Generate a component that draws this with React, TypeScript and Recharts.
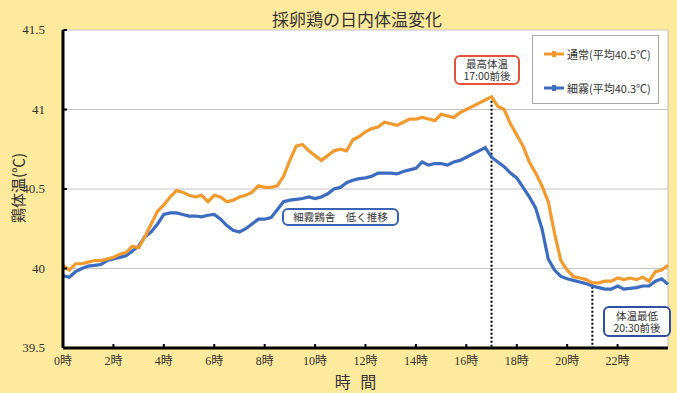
import React from 'react';
import { LineChart, Line, XAxis, YAxis, CartesianGrid, ReferenceLine } from 'recharts';

const hours = [
  0, 0.25, 0.5, 0.75, 1, 1.25, 1.5, 1.75, 2, 2.25, 2.5, 2.75,
  3, 3.25, 3.5, 3.75, 4, 4.25, 4.5, 4.75, 5, 5.25, 5.5, 5.75,
  6, 6.25, 6.5, 6.75, 7, 7.25, 7.5, 7.75, 8, 8.25, 8.5, 8.75,
  9, 9.25, 9.5, 9.75, 10, 10.25, 10.5, 10.75, 11, 11.25, 11.5, 11.75,
  12, 12.25, 12.5, 12.75, 13, 13.25, 13.5, 13.75, 14, 14.25, 14.5, 14.75,
  15, 15.25, 15.5, 15.75, 16, 16.25, 16.5, 16.75, 17, 17.25, 17.5, 17.75,
  18, 18.25, 18.5, 18.75, 19, 19.25, 19.5, 19.75, 20, 20.25, 20.5, 20.75,
  21, 21.25, 21.5, 21.75, 22, 22.25, 22.5, 22.75, 23, 23.25, 23.5, 23.75, 24,
];

const normal = [
  40.02, 39.99, 40.03, 40.03, 40.04, 40.05, 40.05, 40.06, 40.07, 40.09, 40.1, 40.14,
  40.13, 40.2, 40.28, 40.36, 40.4, 40.45, 40.49, 40.48, 40.46, 40.45, 40.46, 40.42,
  40.46, 40.45, 40.42, 40.43, 40.45, 40.46, 40.48, 40.52, 40.51, 40.51, 40.52, 40.58,
  40.68, 40.77, 40.78, 40.74, 40.71, 40.68, 40.71, 40.74, 40.75, 40.74, 40.81, 40.83,
  40.86, 40.88, 40.89, 40.92, 40.91, 40.9, 40.92, 40.94, 40.94, 40.95, 40.94, 40.93,
  40.97, 40.96, 40.95, 40.98, 41.0, 41.02, 41.04, 41.06, 41.08, 41.02, 41.0, 40.91,
  40.84, 40.77, 40.67, 40.6, 40.52, 40.42, 40.22, 40.05, 39.99, 39.95, 39.94, 39.93,
  39.91, 39.91, 39.92, 39.92, 39.94, 39.93, 39.94, 39.93, 39.945, 39.92, 39.98, 39.99, 40.02,
];

const mist = [
  39.955, 39.945, 39.98, 40.0, 40.015, 40.02, 40.025, 40.05, 40.06, 40.07, 40.08, 40.11,
  40.14, 40.2, 40.23, 40.28, 40.34, 40.35, 40.35, 40.34, 40.33, 40.33, 40.325, 40.335,
  40.34, 40.31, 40.27, 40.24, 40.23, 40.25, 40.28, 40.31, 40.31, 40.32, 40.37, 40.42,
  40.43, 40.435, 40.44, 40.45, 40.44, 40.45, 40.47, 40.5, 40.51, 40.54, 40.555, 40.565,
  40.57, 40.58, 40.6, 40.6, 40.6, 40.595, 40.61, 40.62, 40.63, 40.67, 40.65, 40.66,
  40.66, 40.65, 40.67, 40.68, 40.7, 40.72, 40.74, 40.76, 40.7, 40.67, 40.64, 40.6,
  40.57, 40.51, 40.45, 40.38, 40.25, 40.06, 39.99, 39.95, 39.935, 39.925, 39.915, 39.905,
  39.89, 39.88, 39.87, 39.87, 39.89, 39.87, 39.875, 39.88, 39.89, 39.89, 39.92, 39.935, 39.9,
];

const xTicks = [0, 2, 4, 6, 8, 10, 12, 14, 16, 18, 20, 22];
const yTicks = [39.5, 40, 40.5, 41, 41.5];

const seriesNames = ['通常(平均40.5℃)', '細霧(平均40.3℃)'];
const title = '採卵鶏の日内体温変化';
const yTitle = '鶏体温(℃)';
const xTitle = '時 間';
const peakNote = '最高体温\n17:00前後';
const mistNote = '細霧鶏舎　低く推移';
const lowNote = '体温最低\n20:30前後';
const peakHour = 17;
const peakTemp = 41.08;
const lowHour = 21;
const lowTemp = 39.91;

const data = hours.map((h, i) => ({ h, normal: normal[i], mist: mist[i] }));

const ORANGE = '#F29A2E';
const BLUE = '#3B6CC0';
const numFont = "Liberation Serif, Noto Sans CJK JP, serif";
const jpFont = "'Noto Sans CJK JP', sans-serif";

const XTick = (props: any) => {
  const { x, y, payload } = props;
  return (
    <g>
      <line x1={x} x2={x} y1={y} y2={y - 4} stroke="#000" strokeWidth={2} />
      <text x={x} y={y + 17} textAnchor="middle" fontSize={12} fill="#333" fontFamily={numFont}>
        {payload.value}時
      </text>
    </g>
  );
};

const YTick = (props: any) => {
  const { x, y, payload } = props;
  return (
    <g>
      <line x1={x} x2={x + 4} y1={y} y2={y} stroke="#000" strokeWidth={2} />
      <text x={x - 18} y={y + 4} textAnchor="end" fontSize={13} fill="#333" fontFamily={numFont}>
        {String(payload.value)}
      </text>
    </g>
  );
};

const LegendIcon = ({ color }: { color: string }) => (
  <svg width={20} height={8} style={{ marginRight: 3 }}>
    <line x1={0} x2={20} y1={4} y2={4} stroke={color} strokeWidth={3} />
    <rect x={8} y={1} width={4} height={6} fill={color} />
  </svg>
);

const boxStyle = (color: string, left: number, top: number, w: number, h: number): React.CSSProperties => ({
  position: 'absolute',
  left,
  top,
  width: w,
  height: h,
  boxSizing: 'border-box',
  border: `2px solid ${color}`,
  borderRadius: 6,
  background: '#fff',
  fontFamily: jpFont,
  fontSize: 10.5,
  lineHeight: '12px',
  color: '#333',
  display: 'flex',
  alignItems: 'center',
  justifyContent: 'center',
  textAlign: 'center',
  whiteSpace: 'pre',
});

export default function App() {
  return (
    <div
      style={{
        position: 'fixed',
        left: 0,
        top: 0,
        width: 677,
        height: 393,
        background: '#FDEA9C',
        overflow: 'hidden',
      }}
    >
      <LineChart width={677} height={393} data={data} margin={{ top: 30, right: 9, bottom: 0, left: 0 }}>
        <CartesianGrid vertical={false} stroke="#C4C4C4" fill="#ffffff" horizontalValues={yTicks} />
        <XAxis
          dataKey="h"
          type="number"
          domain={[0, 24]}
          ticks={xTicks}
          interval={0}
          height={45}
          tickSize={0}
          tickMargin={0}
          tick={<XTick />}
          axisLine={{ stroke: '#000', strokeWidth: 3 }}
          tickLine={false}
        />
        <YAxis
          type="number"
          domain={[39.5, 41.5]}
          ticks={yTicks}
          interval={0}
          width={63}
          tickSize={0}
          tickMargin={0}
          tick={<YTick />}
          axisLine={{ stroke: '#000', strokeWidth: 3 }}
          tickLine={false}
        />
        <ReferenceLine x={24} stroke="#BDBDBD" strokeWidth={1} />
        <ReferenceLine
          segment={[{ x: peakHour, y: peakTemp }, { x: peakHour, y: 39.5 }]}
          stroke="#000"
          strokeWidth={2}
          strokeDasharray="2 2"
        />
        <ReferenceLine
          segment={[{ x: lowHour, y: lowTemp }, { x: lowHour, y: 39.5 }]}
          stroke="#000"
          strokeWidth={2}
          strokeDasharray="2 2"
        />
        <Line
          type="linear"
          dataKey="mist"
          stroke={BLUE}
          strokeWidth={3.2}
          dot={false}
          isAnimationActive={false}
        />
        <Line
          type="linear"
          dataKey="normal"
          stroke={ORANGE}
          strokeWidth={3.2}
          dot={false}
          isAnimationActive={false}
        />
      </LineChart>

      <div
        style={{
          position: 'absolute',
          left: 207,
          top: 8,
          width: 300,
          textAlign: 'center',
          fontFamily: jpFont,
          fontSize: 17,
          lineHeight: '22px',
          color: '#333',
        }}
      >
        {title}
      </div>

      <div
        style={{
          position: 'absolute',
          left: -32,
          top: 178,
          width: 100,
          height: 20,
          lineHeight: '20px',
          textAlign: 'center',
          transform: 'rotate(-90deg)',
          fontFamily: jpFont,
          fontSize: 15,
          color: '#333',
        }}
      >
        {yTitle}
      </div>

      <div
        style={{
          position: 'absolute',
          left: 307,
          top: 370,
          width: 100,
          height: 22,
          lineHeight: '22px',
          textAlign: 'center',
          fontFamily: jpFont,
          fontSize: 16,
          letterSpacing: 3,
          color: '#333',
        }}
      >
        {xTitle}
      </div>

      <div
        style={{
          position: 'absolute',
          left: 532,
          top: 35,
          width: 127,
          height: 69,
          boxSizing: 'border-box',
          border: '1px solid #A8A8A8',
          background: '#fff',
          fontFamily: jpFont,
          fontSize: 11,
          color: '#333',
        }}
      >
        <div style={{ position: 'absolute', left: 11, top: 10, display: 'flex', alignItems: 'center', whiteSpace: 'nowrap' }}>
          <LegendIcon color={ORANGE} />
          {seriesNames[0]}
        </div>
        <div style={{ position: 'absolute', left: 11, top: 44, display: 'flex', alignItems: 'center', whiteSpace: 'nowrap' }}>
          <LegendIcon color={BLUE} />
          {seriesNames[1]}
        </div>
      </div>

      <div style={boxStyle('#E5533A', 454, 55, 66, 30)}>{peakNote}</div>

      <div style={boxStyle('#3A62B5', 282, 208, 117, 18)}>{mistNote}</div>

      <div style={boxStyle('#2F4F9F', 603, 306, 68, 31)}>{lowNote}</div>
    </div>
  );
}
